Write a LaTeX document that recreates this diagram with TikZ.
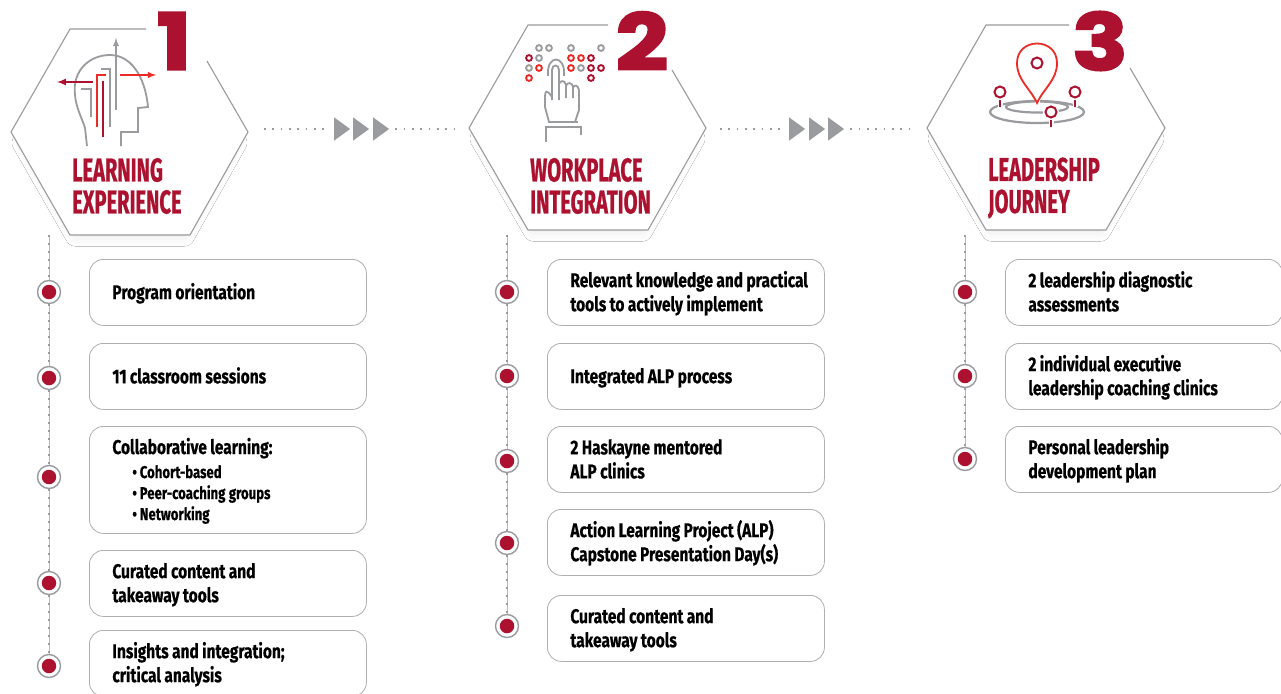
\documentclass[tikz,border=0pt]{standalone}
\usepackage{fontspec}
\usepackage{tikz}
\usetikzlibrary{shapes, arrows, positioning, calc, shadows.blur}
\newfontfamily\bodyfont{Fira Sans}[FakeStretch=0.775,FakeBold=0.5]
\newfontfamily\headfont{Fira Sans}[FakeStretch=0.61,FakeBold=0.7]
\newfontfamily\numfont{Poppins}[FakeBold=3,FakeStretch=1.18]
\definecolor{crimson}{HTML}{AC1230}
\definecolor{brightred}{HTML}{EC2A26}
\definecolor{icongray}{HTML}{9A9B9F}
\tikzset{
  hexfill/.style={fill=white, blur shadow={shadow xshift=0pt, shadow yshift=-12pt, shadow scale=0.9, shadow blur radius=12pt, shadow opacity=11}},
  hexline/.style={draw=icongray, line width=1.1pt},
  numlabel/.style={font=\fontsize{78}{78}\selectfont\numfont\bfseries, text=crimson, inner sep=0pt},
  headlabel/.style={font=\fontsize{33}{32}\selectfont\headfont\bfseries, text=crimson, align=left, inner sep=0pt, anchor=west},
  itembox/.style={draw=icongray!80, line width=0.8pt, rounded corners=14pt, fill=white, anchor=north west, minimum width=277pt, text width=258pt, inner xsep=9.5pt, inner ysep=0pt, align=left, font=\fontsize{20}{24}\selectfont\bodyfont\bfseries,
    execute at begin node={\leftskip=13.5pt\hyphenpenalty=10000\spaceskip=3.4pt\rule[-4pt]{0pt}{22pt}}, execute at end node={\ifhmode\rule[-4pt]{0pt}{22pt}\fi}},
  ringnode/.style={circle, draw=icongray, line width=1.4pt, fill=white, minimum size=23pt, inner sep=0pt},
  dotnode/.style={circle, fill=crimson, minimum size=14.5pt, inner sep=0pt},
  rail/.style={icongray!70, line width=0.6pt, postaction={draw=icongray, line width=1.7pt, dash pattern=on 1.7pt off 6.3pt}},
  dotline/.style={icongray, line width=1.7pt, dash pattern=on 1.7pt off 6.6pt},
  arrowhead/.style={isosceles triangle, isosceles triangle apex angle=72, fill=icongray, minimum height=16pt, minimum width=22pt, inner sep=0pt},
  grayic/.style={icongray, line width=1.8pt},
  redic/.style={brightred, line width=1.8pt},
  darkic/.style={crimson, line width=2pt},
  smallring/.style={line width=1.9pt, fill=white},
}
\newcommand{\subline}[1]{{\fontsize{17}{21}\selectfont\hspace*{20pt}\textbullet\,#1\par}}
\begin{document}
\begin{tikzpicture}[x=1pt,y=-1pt]
  \useasboundingbox (0,0) rectangle (1281,693);
  \clip (0,0) rectangle (1281,693);
  \fill[white] (0,0) rectangle (1281,693);

  % hexagons, each one left open behind its number
  \fill[hexfill] (70,29) -- (190,29) -- (248,132) -- (190,235) -- (70,235) -- (11,132) -- cycle;
  \draw[hexline] (146,29) -- (70,29) -- (11,132) -- (70,235) -- (190,235) -- (248,132) -- (207,61);
  \fill[hexfill] (528,25) -- (648,25) -- (706,128) -- (648,230) -- (528,230) -- (469,128) -- cycle;
  \draw[hexline] (608,25) -- (528,25) -- (469,128) -- (528,230) -- (648,230) -- (706,128) -- (672,70);
  \fill[hexfill] (986,25) -- (1106,25) -- (1165,128) -- (1106,230) -- (986,230) -- (927,128) -- cycle;
  \draw[hexline] (1069,25) -- (986,25) -- (927,128) -- (986,230) -- (1106,230) -- (1165,128) -- (1130,68);

  % numbers
  \node[numlabel] (numA) at (174,41) {1};
  \node[numlabel] (numB) at (642,41) {2};
  \node[numlabel] (numC) at (1100,41) {3};

  % headings
  \node[headlabel] (headA) at (72,186) {LEARNING\\EXPERIENCE};
  \node[headlabel] (headB) at (530,186) {WORKPLACE\\INTEGRATION};
  \node[headlabel] (headC) at (988,188) {LEADERSHIP\\JOURNEY};

  % head icon
  \draw[grayic] (87,146) -- (85,128) .. controls (82,118) and (76,108) .. (75,95) .. controls (72,70) and (90,55) .. (110,55) .. controls (130,55) and (145,75) .. (148,107) -- (138,108) -- (138,132) -- (121,132) -- (121,146);
  \draw[grayic, -latex] (116,110) -- (116,38);
  \draw[grayic] (110,127) -- (110,69) -- (101,69);
  \draw[grayic] (91,117) -- (91,89) -- (81,89);
  \draw[redic] (97,127) -- (97,75) -- (106,75);
  \draw[redic, -latex] (120,75) -- (156,75);
  \draw[darkic] (103,137) -- (103,81);
  \draw[darkic, -latex] (93,82) -- (57,82);

  % hand icon
  \foreach \px/\py in {539/48, 549/48, 571/48, 601/48, 539/58, 529/68, 581/68}
    \draw[smallring, draw=icongray] (\px,\py) circle[radius=2.9];
  \foreach \px/\py in {529/58, 591/58, 591/68, 601/68, 591/78}
    \draw[smallring, draw=crimson] (\px,\py) circle[radius=2.9];
  \foreach \px/\py in {571/58, 581/58, 539/68, 571/68, 529/78}
    \draw[smallring, draw=brightred] (\px,\py) circle[radius=2.9];
  \draw[grayic] (548,76) .. controls (546,54) and (566,54) .. (564,76);
  \draw[grayic] (552,100) -- (552,70) .. controls (552,64) and (559,64) .. (559,70) -- (559,100);
  \draw[grayic] (559,84) .. controls (560,80) and (565,80) .. (566,85) -- (566,98);
  \draw[grayic] (566,86) .. controls (567,82) and (572,82) .. (573,87) -- (573,98);
  \draw[grayic] (573,88) .. controls (574,84) and (578,85) .. (579,90) -- (579,110) -- (575,122);
  \draw[grayic] (552,97) .. controls (546,88) and (545,92) .. (545,97) -- (545,107) -- (549,122);
  \draw[grayic] (548,122) -- (578,122);
  \draw[grayic] (546,142) -- (546,127) -- (581,127) -- (581,135);

  % pin icon
  \draw[grayic, line width=2.2pt] (1037,112) ellipse[x radius=47, y radius=11];
  \draw[grayic, line width=2.2pt] (1037,107) ellipse[x radius=31, y radius=5.5];
  \draw[white, line width=5pt] (1037,85) -- (1037,104);
  \draw[brightred, line width=1.8pt, fill=white] (1037,103) .. controls (1030,88) and (1017,80) .. (1017,63) .. controls (1017,37) and (1057,37) .. (1057,63) .. controls (1057,80) and (1044,88) .. (1037,103) -- cycle;
  \draw[darkic] (1037,63) circle[radius=5.5];
  \foreach \px/\py in {1000/92, 1075/92, 1051/112} {
    \draw[white, line width=5pt] (\px,\py+5) -- (\px,\py+15);
    \draw[darkic] (\px,\py+5) -- (\px,\py+15);
    \draw[white, line width=5pt] (\px,\py) circle[radius=5.5];
    \draw[darkic, fill=white] (\px,\py) circle[radius=5.5];
  }

  % arrows between the columns
  \node[arrowhead] (triA) at (340,129) {};
  \node[arrowhead] (triB) at (359,129) {};
  \node[arrowhead] (triC) at (379,129) {};
  \node[arrowhead] (triD) at (795,129) {};
  \node[arrowhead] (triE) at (815,129) {};
  \node[arrowhead] (triF) at (834,129) {};
  \coordinate (gapA) at (264,129);
  \coordinate (gapB) at (460,129);
  \coordinate (gapC) at (720,129);
  \coordinate (gapD) at (916,129);
  \draw[dotline, shorten >=6pt] (gapA) -- (triA.west);
  \draw[dotline, shorten <=6pt] (triC.east) -- (gapB);
  \draw[dotline, shorten >=6pt] (gapC) -- (triD.west);
  \draw[dotline, shorten <=6pt] (triF.east) -- (gapD);

  % first column
  \node[itembox, minimum height=66pt] (boxA1) at (89,259) {Program orientation};
  \node[itembox, minimum height=66pt] (boxA2) at (89,343) {11 classroom sessions};
  \node[itembox, minimum height=107pt] (boxA3) at (89,426) {Collaborative learning:\par\vspace{3pt}\subline{Cohort-based}\subline{Peer-coaching groups}\subline{Networking}};
  \node[itembox, minimum height=66pt] (boxA4) at (89,550) {Curated content and\\takeaway tools};
  \node[itembox, minimum height=66pt] (boxA5) at (89,630) {Insights and integration;\\critical analysis};
  \coordinate (topA) at (49,235);
  \foreach \n/\y in {1/292, 2/378, 3/477, 4/583, 5/666} {
    \node[ringnode] (ringA\n) at (49,\y) {};
    \node[dotnode] (dotA\n) at (ringA\n) {};
  }
  \draw[rail] (topA) -- (ringA1);
  \draw[rail] (ringA1) -- (ringA2);
  \draw[rail] (ringA2) -- (ringA3);
  \draw[rail] (ringA3) -- (ringA4);
  \draw[rail] (ringA4) -- (ringA5);

  % second column
  \node[itembox, minimum height=66pt] (boxB1) at (547,259) {Relevant knowledge and practical\\tools to actively implement};
  \node[itembox, minimum height=66pt] (boxB2) at (547,343) {Integrated ALP process};
  \node[itembox, minimum height=66pt] (boxB3) at (547,426) {2 Haskayne mentored\\ALP clinics};
  \node[itembox, minimum height=66pt] (boxB4) at (547,509) {Action Learning Project (ALP)\\Capstone Presentation Day(s)};
  \node[itembox, minimum height=66pt] (boxB5) at (547,595) {Curated content and\\takeaway tools};
  \coordinate (topB) at (507,235);
  \foreach \n/\y in {1/292, 2/376, 3/461, 4/543, 5/626} {
    \node[ringnode] (ringB\n) at (507,\y) {};
    \node[dotnode] (dotB\n) at (ringB\n) {};
  }
  \draw[rail] (topB) -- (ringB1);
  \draw[rail] (ringB1) -- (ringB2);
  \draw[rail] (ringB2) -- (ringB3);
  \draw[rail] (ringB3) -- (ringB4);
  \draw[rail] (ringB4) -- (ringB5);

  % third column
  \node[itembox, minimum height=66pt] (boxC1) at (1005,259) {2 leadership diagnostic\\assessments};
  \node[itembox, minimum height=66pt] (boxC2) at (1005,343) {2 individual executive\\leadership coaching clinics};
  \node[itembox, minimum height=66pt] (boxC3) at (1005,426) {Personal leadership\\development plan};
  \coordinate (topC) at (965,235);
  \foreach \n/\y in {1/292, 2/376, 3/459} {
    \node[ringnode] (ringC\n) at (965,\y) {};
    \node[dotnode] (dotC\n) at (ringC\n) {};
  }
  \draw[rail] (topC) -- (ringC1);
  \draw[rail] (ringC1) -- (ringC2);
  \draw[rail] (ringC2) -- (ringC3);
\end{tikzpicture}
\end{document}
